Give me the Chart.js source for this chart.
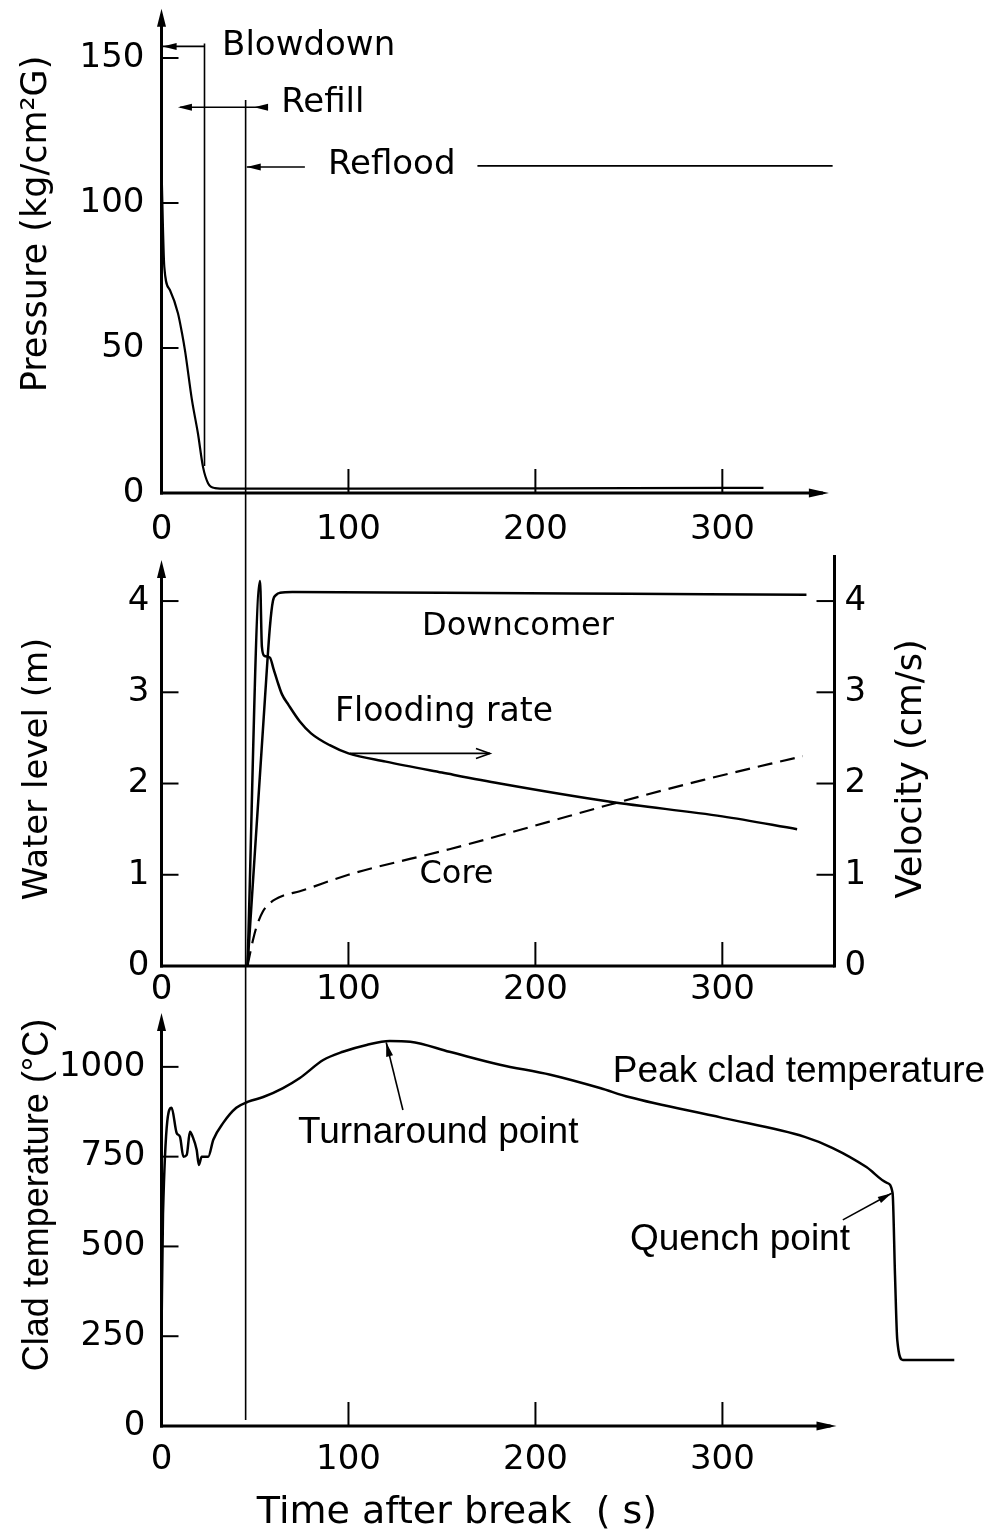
<!DOCTYPE html>
<html>
<head>
<meta charset="utf-8">
<title>LOCA transient</title>
<script src="https://cdn.jsdelivr.net/npm/chart.js@4.4.1/dist/chart.umd.min.js"></script>
<style>
  body { margin: 0; background: #fff; }
  #wrap { position: relative; width: 994px; height: 1537px; background: #fff; }
  canvas { position: absolute; left: 0; }
</style>
</head>
<body>
<div id="wrap">
  <canvas id="pressureChart" width="994" height="548" style="top:0"></canvas>
  <canvas id="levelChart" width="994" height="460" style="top:548px"></canvas>
  <canvas id="cladChart" width="994" height="529" style="top:1008px"></canvas>
</div>
<script>
// time after break (s)
const pressureTime = [0, 1.5, 4.5, 8.8, 11, 12.6, 16.3, 19.5, 22.2, 24.9, 28.6, 35, 100, 200, 322];
const pressureValue = [112, 78, 70, 62, 55, 49, 32, 20.5, 9, 3.4, 1.7, 1.5, 1.5, 1.6, 1.8];

const downcomerTime = [46, 55.3, 58, 59.6, 61.5, 63.4, 70, 150, 250, 345];
const downcomerLevel = [0, 2.92, 3.72, 4.0, 4.07, 4.09, 4.1, 4.09, 4.08, 4.07];

const coreTime = [46, 47.5, 49, 51, 54.3, 58, 65, 74, 100, 154, 181, 207, 240, 290, 343];
const coreLevel = [0, 0.15, 0.29, 0.44, 0.6, 0.69, 0.77, 0.82, 1.0, 1.28, 1.43, 1.58, 1.77, 2.04, 2.3];

const floodTime = [46, 52.7, 53.7, 55, 58, 60, 62, 64.4, 68, 74, 80, 90, 100, 120, 150, 181, 240, 300, 340];
const floodRate = [0, 4.22, 3.5, 3.4, 3.38, 3.25, 3.12, 2.98, 2.86, 2.68, 2.55, 2.42, 2.33, 2.24, 2.12, 2.0, 1.8, 1.64, 1.5];

const cladTime = [0, 0.8, 5.4, 8.1, 9.9, 11.7, 13.5, 15.2, 16.7, 18.8, 20, 21.5, 25, 27.7, 33, 40, 46.4, 54.4, 65, 74,
  86.5, 97, 109.7, 122, 133, 154, 181, 208, 234.5, 250, 300, 344, 359, 377, 388, 391, 392.3, 393.5, 396.5, 424];
const cladTemp = [250, 590, 886, 816, 805, 750, 755, 819, 805, 769, 727, 750, 750, 797, 844, 886, 903, 916, 941, 969,
  1019, 1042, 1061, 1072, 1070, 1042, 1006, 978, 941, 916, 858, 805, 774, 721, 677, 649, 420, 240, 184, 184];

// phase boundaries (s)
const blowdownEnd = 23;
const refillEnd = 45;

// tick labels
const timeTicks = [0, 100, 200, 300];
const pressureTicks = [0, 50, 100, 150];
const levelTicks = [0, 1, 2, 3, 4];
const velocityTicks = [0, 1, 2, 3, 4];
const tempTicks = [0, 250, 500, 750, 1000];

const ink = '#000';
const plotFont = "'DejaVu Sans', sans-serif";
const textFont = "'Liberation Sans', Arial, sans-serif";
const AXIS_W = 161.5;

Chart.defaults.color = ink;
Chart.defaults.font.family = plotFont;

function pts(xs, ys) {
    return xs.map((x, i) => ({ x: x, y: ys[i] }));
}

function fixedWidth(w) {
    return s => { s.width = w; s.paddingTop = 0; s.paddingBottom = 0; };
}

function fixedHeight(h) {
    return s => { s.height = h; s.paddingLeft = 0; s.paddingRight = 0; };
}

function useTicks(values) {
    return s => { s.ticks = values.map(v => ({ value: v })); };
}

function strokeLine(ctx, x1, y1, x2, y2, w) {
    ctx.beginPath();
    ctx.lineWidth = w;
    ctx.moveTo(x1, y1);
    ctx.lineTo(x2, y2);
    ctx.stroke();
}

function arrowHead(ctx, tx, ty, fx, fy, len, half, open) {
    const a = Math.atan2(ty - fy, tx - fx);
    const bx = tx - len * Math.cos(a), by = ty - len * Math.sin(a);
    const px = -Math.sin(a) * half, py = Math.cos(a) * half;
    ctx.beginPath();
    if (open) {
        ctx.lineWidth = 1.6;
        ctx.moveTo(bx + px, by + py);
        ctx.lineTo(tx, ty);
        ctx.lineTo(bx - px, by - py);
        ctx.stroke();
    } else {
        ctx.moveTo(tx, ty);
        ctx.lineTo(bx + px, by + py);
        ctx.lineTo(bx - px, by - py);
        ctx.closePath();
        ctx.fill();
    }
}

function arrow(ctx, fx, fy, tx, ty, w, open) {
    strokeLine(ctx, fx, fy, tx, ty, w);
    arrowHead(ctx, tx, ty, fx, fy, 14, open ? 5 : 3.5, open);
}

function text(ctx, str, x, y, font) {
    ctx.font = font;
    ctx.textAlign = 'left';
    ctx.textBaseline = 'middle';
    ctx.fillText(str, x, y);
}

function vText(ctx, str, x, y, font) {
    ctx.save();
    ctx.translate(x, y);
    ctx.rotate(-Math.PI / 2);
    ctx.font = font;
    ctx.textAlign = 'center';
    ctx.textBaseline = 'middle';
    ctx.fillText(str, 0, 0);
    ctx.restore();
}

// axes with arrow heads and inward tick marks
function drawFrame(chart, xEnd, xArrow, yId) {
    const { ctx, chartArea: a, scales } = chart;
    const x0 = a.left, y0 = a.bottom;
    const xe = scales.x.getPixelForValue(xEnd);
    strokeLine(ctx, x0, y0 + 1.5, x0, a.top + 6, 3);
    arrowHead(ctx, x0, a.top, x0, y0, 18, 4.5);
    strokeLine(ctx, x0 - 1.5, y0, xArrow ? xe - 6 : xe, y0, 3);
    if (xArrow) arrowHead(ctx, xe, y0, x0, y0, 20, 4.5);
    scales[yId].ticks.forEach(t => {
        if (t.value === 0) return;
        const y = scales[yId].getPixelForValue(t.value);
        strokeLine(ctx, x0, y, x0 + 17, y, 2);
    });
    scales.x.ticks.forEach(t => {
        if (t.value === 0) return;
        const x = scales.x.getPixelForValue(t.value);
        strokeLine(ctx, x, y0, x, y0 - 24, 2);
    });
}

function baseOptions(padRight, padTop, xMax, xHeight, xPad) {
    return {
        responsive: false,
        animation: false,
        events: [],
        layout: { padding: { left: 0, right: padRight, top: padTop, bottom: 0 } },
        plugins: { legend: { display: false }, tooltip: { enabled: false } },
        elements: { point: { radius: 0 }, line: { borderColor: ink, borderWidth: 2.5, cubicInterpolationMode: 'monotone' } },
        scales: {
            x: {
                type: 'linear', min: 0, max: xMax,
                grid: { display: false, drawTicks: false },
                border: { display: false },
                afterBuildTicks: useTicks(timeTicks),
                afterFit: fixedHeight(xHeight),
                ticks: { font: { size: 34 }, padding: xPad, maxRotation: 0, autoSkip: false, callback: v => String(v) }
            }
        }
    };
}

function yScale(max, ticks, pad, position) {
    return {
        type: 'linear', min: 0, max: max, position: position || 'left',
        grid: { display: false, drawTicks: false },
        border: { display: false },
        afterBuildTicks: useTicks(ticks),
        afterFit: fixedWidth(position === 'right' ? 994 - 834.5 : AXIS_W),
        ticks: { font: { size: 34 }, padding: pad, autoSkip: false, callback: v => String(v) }
    };
}

// --- pressure ---
const pOpts = baseOptions(994 - 834.5, 8.7, 360, 55, 16.6);
pOpts.scales.y = yScale(167, pressureTicks, 17);
new Chart(document.getElementById('pressureChart'), {
    type: 'line',
    data: { datasets: [{ data: pts(pressureTime, pressureValue), borderWidth: 2.2 }] },
    options: pOpts,
    plugins: [{
        id: 'pressureDecor',
        afterDraw(chart) {
            const { ctx, scales: { x, y } } = chart;
            const X = t => x.getPixelForValue(t), Y = v => y.getPixelForValue(v);
            ctx.save();
            ctx.strokeStyle = ink; ctx.fillStyle = ink;
            drawFrame(chart, 357, true, 'y');
            // phase boundaries
            strokeLine(ctx, X(blowdownEnd), Y(155), X(blowdownEnd), Y(9.3), 1.6);
            strokeLine(ctx, X(refillEnd), Y(135.5), X(refillEnd), chart.height, 1.6);
            // phase labels
            arrow(ctx, X(blowdownEnd), Y(154), X(0.6), Y(154), 1.6);
            text(ctx, 'Blowdown', X(32.4), Y(154), '34px ' + plotFont);
            strokeLine(ctx, X(57), Y(133), X(10), Y(133), 1.6);
            arrowHead(ctx, X(8.8), Y(133), X(20), Y(133), 14, 3.5);
            arrowHead(ctx, X(49.5), Y(133), X(57), Y(133), 14, 3.5);
            text(ctx, 'Refill', X(64), Y(134.5), '34px ' + plotFont);
            arrow(ctx, X(76.7), Y(112.4), X(refillEnd + 0.6), Y(112.4), 1.6);
            text(ctx, 'Reflood', X(89), Y(113), '34px ' + plotFont);
            strokeLine(ctx, X(169), Y(112.8), X(359), Y(112.8), 1.6);
            vText(ctx, 'Pressure (kg/cm²G)', 37, 224, '35px ' + plotFont);
            ctx.restore();
        }
    }]
});

// --- water level and flooding rate ---
const lOpts = baseOptions(0, 12, 360, 42, 3.6);
lOpts.scales.y = yScale(4.45, levelTicks, 12);
lOpts.scales.y1 = yScale(4.45, velocityTicks, 10, 'right');
new Chart(document.getElementById('levelChart'), {
    type: 'line',
    data: {
        datasets: [
            { label: 'Downcomer', data: pts(downcomerTime, downcomerLevel), yAxisID: 'y' },
            { label: 'Core', data: pts(coreTime, coreLevel), yAxisID: 'y', borderDash: [15, 8], borderWidth: 2.2 },
            { label: 'Flooding rate', data: pts(floodTime, floodRate), yAxisID: 'y1' }
        ]
    },
    options: lOpts,
    plugins: [{
        id: 'levelDecor',
        afterDraw(chart) {
            const { ctx, chartArea: a, scales: { x, y, y1 } } = chart;
            const X = t => x.getPixelForValue(t), Y = v => y.getPixelForValue(v);
            ctx.save();
            ctx.strokeStyle = ink; ctx.fillStyle = ink;
            drawFrame(chart, 360, false, 'y');
            // right velocity axis
            strokeLine(ctx, a.right, a.bottom + 1.5, a.right, a.top - 5, 3);
            y1.ticks.forEach(t => {
                if (t.value === 0) return;
                const py = y1.getPixelForValue(t.value);
                strokeLine(ctx, a.right, py, a.right - 18, py, 2);
            });
            strokeLine(ctx, X(refillEnd), 0, X(refillEnd), chart.height, 1.6);
            text(ctx, 'Downcomer', X(139.4), Y(3.72), '32px ' + plotFont);
            text(ctx, 'Flooding rate', X(92.8), Y(2.78), '33px ' + plotFont);
            arrow(ctx, X(100.8), Y(2.33), X(175.7), Y(2.33), 1.6, true);
            text(ctx, 'Core', X(138), Y(1.0), '32px ' + plotFont);
            vText(ctx, 'Water level (m)', 38, 221, '34px ' + plotFont);
            vText(ctx, 'Velocity (cm/s)', 912, 221, '35px ' + plotFont);
            ctx.restore();
        }
    }]
});

// --- peak clad temperature ---
const cOpts = baseOptions(994 - 965.5, 5, 430, 111, 13.6);
cOpts.scales.y = yScale(1150, tempTicks, 16);
new Chart(document.getElementById('cladChart'), {
    type: 'line',
    data: { datasets: [{ label: 'Peak clad temperature', data: pts(cladTime, cladTemp) }] },
    options: cOpts,
    plugins: [{
        id: 'cladDecor',
        afterDraw(chart) {
            const { ctx, chartArea: a, scales: { x, y } } = chart;
            const X = t => x.getPixelForValue(t), Y = v => y.getPixelForValue(v);
            ctx.save();
            ctx.strokeStyle = ink; ctx.fillStyle = ink;
            drawFrame(chart, 361, true, 'y');
            strokeLine(ctx, X(refillEnd), 0, X(refillEnd), a.bottom - 6, 1.6);
            text(ctx, 'Peak clad temperature', X(241.4), Y(986), '37px ' + textFont);
            text(ctx, 'Turnaround point', X(73), Y(816), '37px ' + textFont);
            arrow(ctx, X(129.1), Y(880), X(120.2), Y(1068), 1.6);
            text(ctx, 'Quench point', X(250.5), Y(518), '37px ' + textFont);
            arrow(ctx, X(364.4), Y(574), X(390.5), Y(648), 1.6);
            vText(ctx, 'Clad temperature (°C)', 38, 187, '36px ' + textFont);
            ctx.font = '38px ' + plotFont;
            ctx.textAlign = 'center';
            ctx.textBaseline = 'middle';
            ctx.fillText('Time after break  ( s)', 457, 505);
            ctx.restore();
        }
    }]
});
</script>
</body>
</html>
